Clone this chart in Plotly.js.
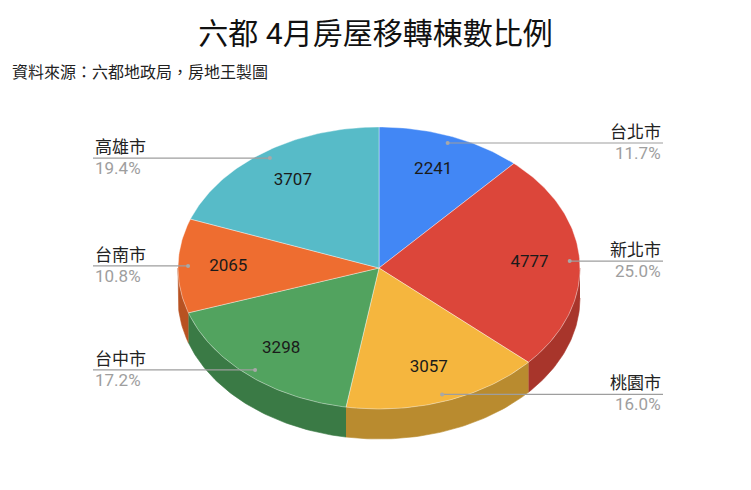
<!DOCTYPE html>
<html>
<head>
<meta charset="utf-8">
<script src="https://cdn.plot.ly/plotly-3.0.1.min.js"></script>
<style>html,body{margin:0;padding:0;background:#fff;}#chart{width:751px;height:490px;}</style>
</head>
<body>
<div id="chart"></div>
<script>
// ---- data ----
const categories = ['台北市', '新北市', '桃園市', '台中市', '台南市', '高雄市'];
const values = [2241, 4777, 3057, 3298, 2065, 3707];
const topColors = ['#4287F5', '#DC463A', '#F5B63E', '#52A35F', '#EE6D30', '#57BBC8'];
const sideColors = ['#2F62B5', '#A8352B', '#B98B2F', '#3A7A45', '#B85222', '#3E8A93'];
const titleText = '六都 4月房屋移轉棟數比例';
const sourceText = '資料來源：六都地政局，房地王製圖';

// ---- layout constants (pixels) ----
const W = 751, H = 490;
const CX = 379, CY = 268, RX = 201, RY = 141, DEPTH = 30;
const FONT = 'Roboto, "Noto Sans CJK TC", sans-serif';

const total = values.reduce((a, b) => a + b, 0);
const rad = d => d * Math.PI / 180;
const ex = (deg, f) => CX + RX * f * Math.sin(rad(deg));
const ey = (deg, f) => CY - RY * f * Math.cos(rad(deg));

const traces = [];
const annotations = [];
let cum = 0;
const slices = values.map((v, i) => {
  const a = cum / total * 360;
  cum += v;
  const b = cum / total * 360;
  return {a, b, mid: (a + b) / 2, v, i};
});

// side walls (front half only: 90..270 deg)
slices.forEach(s => {
  const a = Math.max(s.a, 90), b = Math.min(s.b, 270);
  if (b <= a) return;
  const xs = [], ys = [];
  const n = Math.max(2, Math.ceil(b - a));
  for (let k = 0; k <= n; k++) { const d = a + (b - a) * k / n; xs.push(ex(d, 1)); ys.push(ey(d, 1)); }
  for (let k = n; k >= 0; k--) { const d = a + (b - a) * k / n; xs.push(ex(d, 1)); ys.push(ey(d, 1) + DEPTH); }
  traces.push({type: 'scatter', mode: 'lines', x: xs, y: ys, fill: 'toself',
    fillcolor: sideColors[s.i], line: {width: 0.6, color: sideColors[s.i]}, hoverinfo: 'skip'});
});

// top faces
slices.forEach(s => {
  const xs = [CX], ys = [CY];
  const n = Math.max(2, Math.ceil(s.b - s.a));
  for (let k = 0; k <= n; k++) { const d = s.a + (s.b - s.a) * k / n; xs.push(ex(d, 1)); ys.push(ey(d, 1)); }
  xs.push(CX); ys.push(CY);
  traces.push({type: 'scatter', mode: 'lines', x: xs, y: ys, fill: 'toself',
    fillcolor: topColors[s.i], line: {width: 0.7, color: 'rgba(255,255,255,0.55)'}, hoverinfo: 'skip'});
});

// value labels
traces.push({type: 'scatter', mode: 'text',
  x: slices.map(s => ex(s.mid, 0.75)), y: slices.map(s => ey(s.mid, 0.75)),
  text: values.map(v => String(v)), textposition: 'middle center',
  textfont: {family: FONT, size: 17, color: '#1a1a1a'}, hoverinfo: 'skip'});

// leader lines + outside labels
const LEFT_X = 93, RIGHT_X = 663;
slices.forEach(s => {
  const dx = ex(s.mid, 0.95), dy = ey(s.mid, 0.95);
  const right = Math.sin(rad(s.mid)) >= 0;
  const lx = right ? RIGHT_X : LEFT_X;
  traces.push({type: 'scatter', mode: 'lines', x: [dx, lx], y: [dy, dy],
    line: {color: '#9E9E9E', width: 1.2}, hoverinfo: 'skip'});
  traces.push({type: 'scatter', mode: 'markers', x: [dx], y: [dy],
    marker: {color: '#A8A8A8', size: 4}, hoverinfo: 'skip'});
  const pct = (s.v / total * 100).toFixed(1) + '%';
  annotations.push({x: lx, y: dy - 11, xref: 'x', yref: 'y', text: categories[s.i], showarrow: false,
    xanchor: right ? 'right' : 'left', yanchor: 'middle', font: {family: FONT, size: 17, color: '#222'}});
  annotations.push({x: lx, y: dy + 10, xref: 'x', yref: 'y', text: pct, showarrow: false,
    xanchor: right ? 'right' : 'left', yanchor: 'middle', font: {family: FONT, size: 17, color: '#9E9E9E'}});
});

annotations.push({x: 10, y: 72, xref: 'x', yref: 'y', text: sourceText, showarrow: false,
  xanchor: 'left', yanchor: 'middle', font: {family: FONT, size: 16, color: '#222'}});

const layout = {
  width: W, height: H,
  margin: {l: 0, r: 0, t: 0, b: 0},
  paper_bgcolor: '#fff', plot_bgcolor: '#fff',
  showlegend: false,
  title: {text: titleText, x: 0.5, xanchor: 'center', xref: 'paper',
    y: 1 - 33 / H, yref: 'container', yanchor: 'middle',
    font: {family: FONT, size: 30, color: '#111', weight: 400}},
  xaxis: {range: [0, W], visible: false, fixedrange: true},
  yaxis: {range: [H, 0], visible: false, fixedrange: true},
  annotations: annotations,
  hovermode: false
};

Plotly.newPlot('chart', traces, layout, {displayModeBar: false, staticPlot: true});
</script>
</body>
</html>
